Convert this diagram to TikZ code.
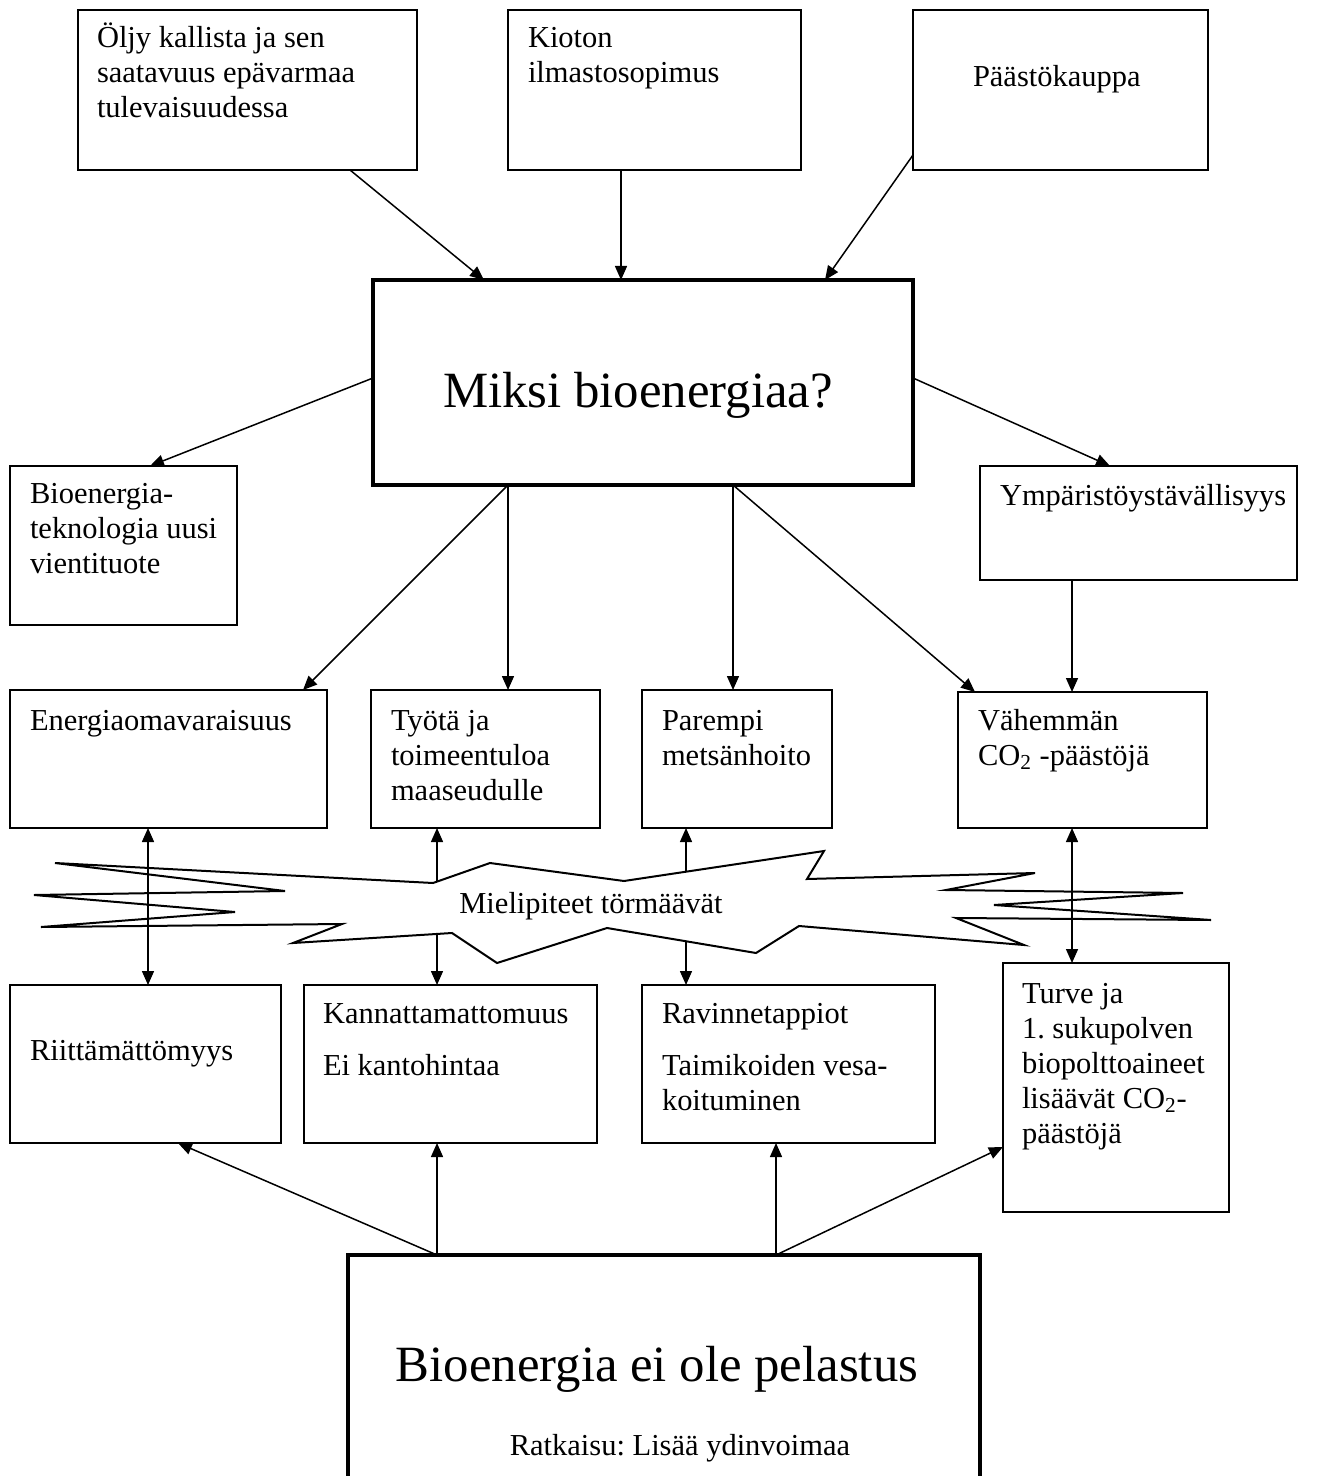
\documentclass[tikz,border=0pt]{standalone}
\usepackage{fontspec}
\setmainfont{Liberation Serif}
\usetikzlibrary{arrows.meta,calc}
\newcommand\fst{\rule{0pt}{15pt}}
\frenchspacing
\begin{document}
\begin{tikzpicture}[x=0.5pt,y=-0.5pt,
  box/.style={draw,line width=1pt,inner sep=0,outer sep=0,fill=white},
  thickbox/.style={box,line width=2.25pt},
  dims/.style 2 args={minimum width=#1*0.5pt,minimum height=#2*0.5pt},
  txt/.style={inner sep=0,outer sep=0,align=left,anchor=north west,font=\fontsize{15.24}{17.5}\selectfont\frenchspacing},
  big/.style={inner sep=0,outer sep=0,anchor=base,font=\fontsize{25.4}{30}\selectfont\frenchspacing},
  tip/.tip={Triangle[length=7pt,width=6pt]},
  arr/.style={line width=0.75pt,-tip},
  darr/.style={line width=0.75pt,tip-tip},
]
\useasboundingbox (0,0) rectangle (1325,1476);

% boxes
\node[box,dims={339}{160}] (A) at (247.5,90) {};
\node[box,dims={293}{160}] (B) at (654.5,90) {};
\node[box,dims={295}{160}] (C) at (1060.5,90) {};
\node[thickbox,dims={540}{205}] (M) at (643,382.5) {};
\node[box,dims={227}{159}] (L) at (123.5,545.5) {};
\node[box,dims={317}{114}] (Y) at (1138.5,523) {};
\node[box,dims={317}{138}] (E) at (168.5,759) {};
\node[box,dims={229}{138}] (T) at (485.5,759) {};
\node[box,dims={190}{138}] (P) at (737,759) {};
\node[box,dims={249}{136}] (V) at (1082.5,760) {};
\node[box,dims={271}{158}] (Ri) at (145.5,1064) {};
\node[box,dims={293}{158}] (K) at (450.5,1064) {};
\node[box,dims={293}{158}] (Ra) at (788.5,1064) {};
\node[box,dims={226}{249}] (Tu) at (1116,1087.5) {};
\node[thickbox,dims={632}{260}] (Bo) at (664,1385) {};

% texts
\node[txt] (At) at (97,18) {\fst Öljy kallista ja sen\\saatavuus epävarmaa\\tulevaisuudessa};
\node[txt] (Bt) at (528,18) {\fst Kioton\\ilmastosopimus};
\node[txt] (Ct) at (973,57) {\fst Päästökauppa};
\node[big] (Mt) at (638,407) {Miksi bioenergiaa?};
\node[txt] (Lt) at (30,473) {\fst Bioenergia-\\teknologia uusi\\vientituote};
\node[txt] (Yt) at (1000,475) {\fst Ympäristöystävällisyys};
\node[txt] (Et) at (30,700) {\fst Energiaomavaraisuus};
\node[txt] (Tt) at (391,700) {\fst Työtä ja\\toimeentuloa\\maaseudulle};
\node[txt] (Pt) at (662,700) {\fst Parempi\\metsänhoito};
\node[txt] (Vt) at (978,700) {\fst Vähemmän\\CO\textsubscript{2} -päästöjä};
\node[txt] (Rit) at (30,1030) {\fst Riittämättömyys};
\node[txt] (Kt) at (323,993) {\fst Kannattamattomuus\\[8.5pt]Ei kantohintaa};
\node[txt] (Rat) at (662,993) {\fst Ravinnetappiot\\[8.5pt]Taimikoiden vesa-\\koituminen};
\node[txt] (Tut) at (1022,973) {\fst Turve ja\\1. sukupolven\\biopolttoaineet\\lisäävät CO\textsubscript{2}-\\päästöjä};
\node[big] (Bot) at (657,1381) {Bioenergia ei ole pelastus};
\node[txt,anchor=base] (Rk) at (680,1455) {Ratkaisu: Lisää ydinvoimaa};

% arrows into and out of the main box
\draw[arr] ($(A.south west)+(272,0)$) -- ($(M.north west)+(111,0)$);
\draw[arr] ($(B.south west)+(113,0)$) -- ($(M.north west)+(248,0)$);
\draw[arr] ($(C.south west)+(0,-15)$) -- ($(M.north west)+(452,0)$);
\draw[arr] ($(M.north west)+(0,98)$) -- ($(L.north west)+(140,0)$);
\draw[arr] ($(M.north east)+(0,98)$) -- ($(Y.north west)+(130,0)$);
\draw[arr] ($(M.south west)+(135,0)$) -- ($(E.north west)+(293,0)$);
\draw[arr] ($(M.south west)+(135,0)$) -- ($(T.north west)+(137,0)$);
\draw[arr] ($(M.south west)+(360,0)$) -- ($(P.north west)+(91,0)$);
\draw[arr] ($(M.south west)+(360,0)$) -- ($(V.north west)+(17,0)$);
\draw[arr] ($(Y.south west)+(92,0)$) -- ($(V.north west)+(114,0)$);

% double arrows behind the burst
\draw[darr] ($(T.south west)+(66,0)$) -- ($(K.north west)+(133,0)$);
\draw[darr] ($(P.south west)+(44,0)$) -- ($(Ra.north west)+(44,0)$);

% burst
\draw[line width=1pt,fill=white] (55,863) -- (285,891) -- (34,895) -- (235,912) -- (41,927)
  -- (342,924) -- (293,943) -- (452,933) -- (497,963) -- (607,928) -- (756,953)
  -- (799,926) -- (1024,945) -- (956,918) -- (1211,920) -- (994,905) -- (1183,893)
  -- (946,890) -- (1035,873) -- (807,879) -- (824,851) -- (624,881) -- (490,863)
  -- (433,883) -- cycle;
\node[txt,anchor=base] (St) at (591,913) {Mielipiteet törmäävät};

% double arrows over the burst
\draw[darr] ($(E.south west)+(138,0)$) -- ($(Ri.north west)+(138,0)$);
\draw[darr] ($(V.south west)+(114,0)$) -- ($(Tu.north west)+(69,0)$);

% arrows from the bottom box
\draw[arr] ($(Bo.north west)+(89,0)$) -- ($(Ri.south west)+(168,0)$);
\draw[arr] ($(Bo.north west)+(89,0)$) -- ($(K.south west)+(133,0)$);
\draw[arr] ($(Bo.north west)+(428,0)$) -- ($(Ra.south west)+(134,0)$);
\draw[arr] ($(Bo.north west)+(428,0)$) -- ($(Tu.south west)+(0,-65)$);
\end{tikzpicture}
\end{document}
